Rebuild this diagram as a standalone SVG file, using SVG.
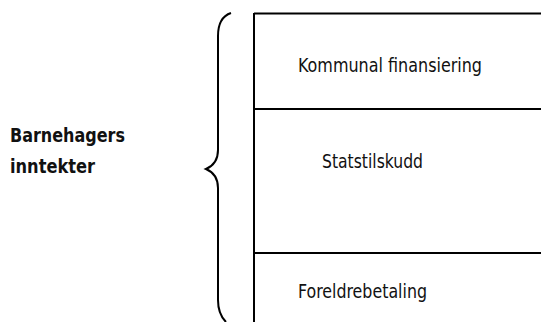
<svg xmlns="http://www.w3.org/2000/svg" width="541" height="322" viewBox="0 0 541 322">
<style>
.ln{stroke:#000;stroke-width:2;fill:none}
.t{font-family:"DejaVu Sans Condensed","DejaVu Sans",sans-serif;font-size:19px;fill:#111}
.b{font-family:"DejaVu Sans Condensed","DejaVu Sans",sans-serif;font-size:20px;font-weight:bold;fill:#111}
</style>
<rect width="541" height="322" fill="#fff"/>
<g id="label">
<text class="b" x="10" y="142" textLength="115" lengthAdjust="spacingAndGlyphs">Barnehagers</text>
<text class="b" x="10" y="173" textLength="85" lengthAdjust="spacingAndGlyphs">inntekter</text>
</g>
<g id="connectors">
<path class="ln" d="M231,13 C222,16 218,24 218,36 L218,150 C218,160 213,166 206,169 C213,172 218,178 218,188 L218,300 C218,310 220,316 226,322"/>
</g>
<g id="box">
<path class="ln" d="M254,13.5 L541,13.5 M254,13 L254,322 M254,109 L541,109 M254,253 L541,253"/>
</g>
<g id="kommunal">
<text class="t" x="298" y="72" textLength="184" lengthAdjust="spacingAndGlyphs">Kommunal finansiering</text>
</g>
<g id="stat">
<text class="t" x="322" y="168" textLength="101" lengthAdjust="spacingAndGlyphs">Statstilskudd</text>
</g>
<g id="foreldre">
<text class="t" x="298" y="298" textLength="129" lengthAdjust="spacingAndGlyphs">Foreldrebetaling</text>
</g>
</svg>
